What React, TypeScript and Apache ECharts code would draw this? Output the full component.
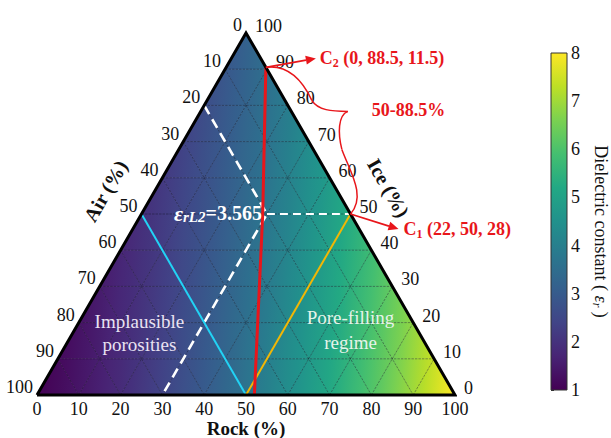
import React, { useEffect, useRef } from "react";
import * as echarts from "echarts";

// ---------- data ----------
const TICKS = [0, 10, 20, 30, 40, 50, 60, 70, 80, 90, 100];
const ICE_LEVELS = [0, 10, 20, 30, 40, 50, 60, 70, 80, 90, 100];
// dielectric constant read at grid vertices: one row per ice level,
// columns = rock 0,10,... up to 100-ice (air = the remainder)
const EPS_ICE_0 = [1.0, 1.4, 1.86, 2.4, 3.0, 3.66, 4.4, 5.2, 6.06, 7.0, 8.0];
const EPS_ICE_10 = [1.16, 1.59, 2.08, 2.64, 3.27, 3.97, 4.73, 5.56, 6.45, 7.41];
const EPS_ICE_20 = [1.33, 1.79, 2.31, 2.9, 3.56, 4.28, 5.07, 5.93, 6.85];
const EPS_ICE_30 = [1.52, 2.0, 2.55, 3.17, 3.86, 4.61, 5.43, 6.31];
const EPS_ICE_40 = [1.72, 2.23, 2.81, 3.45, 4.17, 4.95, 5.79];
const EPS_ICE_50 = [1.93, 2.47, 3.07, 3.75, 4.49, 5.3];
const EPS_ICE_60 = [2.15, 2.72, 3.35, 4.05, 4.82];
const EPS_ICE_70 = [2.38, 2.98, 3.64, 4.37];
const EPS_ICE_80 = [2.62, 3.25, 3.94];
const EPS_ICE_90 = [2.88, 3.54];
const EPS_ICE_100 = [3.15];
const EPS_ROWS = [
  EPS_ICE_0, EPS_ICE_10, EPS_ICE_20, EPS_ICE_30, EPS_ICE_40, EPS_ICE_50,
  EPS_ICE_60, EPS_ICE_70, EPS_ICE_80, EPS_ICE_90, EPS_ICE_100,
];
// compositions as [air, ice, rock] (%)
const C1 = [22, 50, 28];
const C2 = [0, 88.5, 11.5];
const C1_EDGE = [0, 50, 50];
const RANGE_TEXT = "50-88.5%";
const RED_LINE = [[0, 90.5, 9.5], [21, 50, 29], [48, 0, 52]];
const CYAN_LINE = [[50, 50, 0], [50, 0, 50]];
const YELLOW_LINE = [[50, 0, 50], [0, 50, 50]];
const WHITE_DASH = [[20, 80, 0], [20, 50, 30], [70, 0, 30]];
const WHITE_HDASH = [[20, 50, 30], [0, 50, 50]];
const EPS_L2 = 3.565;
const CB_MIN = 1;
const CB_MAX = 8;
const VIRIDIS = [
  "#440154", "#482475", "#414487", "#355f8d", "#2a788e", "#21918c",
  "#22a884", "#44bf70", "#7ad151", "#bddf26", "#fde725",
];

// ---------- helpers ----------
const FONT = "Liberation Serif";
const RED = "#e8161b";
const SQ = Math.sqrt(3) / 2;
const toXY = (a: number, i: number, r: number) => [r + i / 2, i * SQ];

function hex2rgb(h: string) {
  return [parseInt(h.slice(1, 3), 16), parseInt(h.slice(3, 5), 16), parseInt(h.slice(5, 7), 16)];
}
function viridis(v: number): string {
  let t = (v - CB_MIN) / (CB_MAX - CB_MIN);
  t = Math.max(0, Math.min(1, t));
  const n = VIRIDIS.length - 1;
  const f = t * n;
  const k = Math.min(n - 1, Math.floor(f));
  const u = f - k;
  const a = hex2rgb(VIRIDIS[k]);
  const b = hex2rgb(VIRIDIS[k + 1]);
  const c = a.map((x, j) => Math.round(x + (b[j] - x) * u));
  return `rgb(${c[0]},${c[1]},${c[2]})`;
}
function triFill(p: number[][], v: number[]) {
  const [x0, y0] = p[0];
  const ax = p[1][0] - x0, ay = p[1][1] - y0, bx = p[2][0] - x0, by = p[2][1] - y0;
  const d1 = v[1] - v[0], d2 = v[2] - v[0];
  const det = ax * by - ay * bx;
  const gx = (d1 * by - ay * d2) / det;
  const gy = (ax * d2 - bx * d1) / det;
  const g2 = gx * gx + gy * gy;
  const vmin = Math.min(...v), vmax = Math.max(...v);
  if (!isFinite(g2) || g2 < 1e-12 || vmax - vmin < 1e-6) return viridis(v[0]);
  const sx = x0 + ((vmin - v[0]) * gx) / g2, sy = y0 + ((vmin - v[0]) * gy) / g2;
  const ex = x0 + ((vmax - v[0]) * gx) / g2, ey = y0 + ((vmax - v[0]) * gy) / g2;
  const stops = [];
  for (let s = 0; s <= 4; s++) stops.push({ offset: s / 4, color: viridis(vmin + ((vmax - vmin) * s) / 4) });
  return new echarts.graphic.LinearGradient(sx, sy, ex, ey, stops, true);
}

// triangles of the 10% grid: [rowIndex, rockIndex, up]
const TRIS: number[][] = [];
for (let k = 0; k < ICE_LEVELS.length - 1; k++) {
  const n = EPS_ROWS[k].length - 1;
  for (let j = 0; j < n; j++) {
    TRIS.push([k, j, 1]);
    if (j < n - 1) TRIS.push([k, j, 0]);
  }
}
const GRID_LINES: number[][] = [];
TICKS.slice(1, -1).forEach((t) => [0, 1, 2].forEach((d) => GRID_LINES.push([t, d])));

const lineData = (pts: number[][]) => pts.map((p) => toXY(p[0], p[1], p[2]));

export default function App() {
  const ref = useRef<HTMLDivElement>(null);
  useEffect(() => {
    const chart = echarts.init(ref.current!, null, { renderer: "svg" });
    const vert = (k: number, j: number) => {
      const ice = ICE_LEVELS[k], rock = TICKS[j];
      return { xy: toXY(100 - ice - rock, ice, rock), v: EPS_ROWS[k][j] };
    };
    const option: any = {
      animation: false,
      backgroundColor: "#fff",
      grid: [
        { left: 37, top: 33, width: 418, height: 362, outerBoundsMode: "none", containLabel: false },
        { left: 551, top: 53, width: 16, height: 337, outerBoundsMode: "none", containLabel: false },
      ],
      xAxis: [
        {
          type: "value", gridIndex: 0, min: 0, max: 100, interval: 10,
          axisLine: { show: false }, axisTick: { show: false }, splitLine: { show: false },
          axisLabel: { fontSize: 18, fontFamily: FONT, color: "#111", margin: 5 },
        },
        { type: "value", gridIndex: 1, min: 0, max: 1, show: false },
      ],
      yAxis: [
        { type: "value", gridIndex: 0, min: 0, max: 100 * SQ, show: false },
        {
          type: "value", gridIndex: 1, min: CB_MIN, max: CB_MAX, interval: 1, position: "right",
          axisLine: { show: false }, splitLine: { show: false },
          axisTick: { show: true, length: 3, lineStyle: { color: "#333" } },
          axisLabel: { fontSize: 18, fontFamily: FONT, color: "#111", margin: 4 },
        },
      ],
      series: [
        {
          type: "custom", xAxisIndex: 0, yAxisIndex: 0, z: 1, silent: true,
          data: TRIS,
          renderItem: (params: any, api: any) => {
            const k = api.value(0), j = api.value(1), up = api.value(2);
            const vs = up ? [vert(k, j), vert(k, j + 1), vert(k + 1, j)] : [vert(k, j + 1), vert(k + 1, j), vert(k + 1, j + 1)];
            const pts = vs.map((q) => api.coord(q.xy));
            const fill = triFill(pts, vs.map((q) => q.v));
            return { type: "polygon", shape: { points: pts }, style: { fill, stroke: fill, lineWidth: 0.6 } };
          },
        },
        {
          type: "custom", xAxisIndex: 0, yAxisIndex: 0, z: 2, silent: true,
          data: GRID_LINES,
          renderItem: (params: any, api: any) => {
            const t = api.value(0), d = api.value(1);
            let a: number[], b: number[];
            if (d === 0) { a = toXY(100 - t, t, 0); b = toXY(0, t, 100 - t); }
            else if (d === 1) { a = toXY(100 - t, 0, t); b = toXY(0, 100 - t, t); }
            else { a = toXY(t, 100 - t, 0); b = toXY(t, 0, 100 - t); }
            const p = api.coord(a), q = api.coord(b);
            return {
              type: "line", shape: { x1: p[0], y1: p[1], x2: q[0], y2: q[1] },
              style: { stroke: "rgba(15,15,30,0.5)", lineWidth: 0.8, lineDash: [2.5, 1] },
            };
          },
        },
        {
          type: "line", xAxisIndex: 0, yAxisIndex: 0, z: 3, symbol: "none", clip: false, silent: true,
          data: lineData(WHITE_DASH), lineStyle: { color: "#fff", width: 2.6, type: [10, 6] },
        },
        {
          type: "line", xAxisIndex: 0, yAxisIndex: 0, z: 3, symbol: "none", clip: false, silent: true,
          data: lineData(WHITE_HDASH), lineStyle: { color: "#fff", width: 2.2, type: [8, 5] },
        },
        {
          type: "line", xAxisIndex: 0, yAxisIndex: 0, z: 4, symbol: "none", clip: false, silent: true,
          data: lineData(CYAN_LINE), lineStyle: { color: "#22d3f5", width: 2 },
        },
        {
          type: "line", xAxisIndex: 0, yAxisIndex: 0, z: 4, symbol: "none", clip: false, silent: true,
          data: lineData(YELLOW_LINE), lineStyle: { color: "#f2b705", width: 2 },
        },
        {
          type: "line", xAxisIndex: 0, yAxisIndex: 0, z: 5, symbol: "none", clip: false, silent: true,
          data: lineData(RED_LINE), lineStyle: { color: RED, width: 3 },
        },
        {
          type: "line", xAxisIndex: 0, yAxisIndex: 0, z: 6, symbol: "none", clip: false, silent: true,
          data: lineData([[100, 0, 0], [0, 0, 100], [0, 100, 0], [100, 0, 0]]),
          lineStyle: { color: "#000", width: 3, join: "miter" },
        },
        {
          type: "custom", xAxisIndex: 1, yAxisIndex: 1, z: 2, silent: true,
          data: [[0, CB_MIN]],
          renderItem: (params: any, api: any) => {
            const p0 = api.coord([0, CB_MIN]);
            const p1 = api.coord([1, CB_MAX]);
            const stops = VIRIDIS.map((c, i) => ({ offset: i / (VIRIDIS.length - 1), color: c }));
            return {
              type: "rect",
              shape: { x: p0[0], y: p1[1], width: p1[0] - p0[0], height: p0[1] - p1[1] },
              style: { fill: new echarts.graphic.LinearGradient(0, 1, 0, 0, stops), stroke: "#333", lineWidth: 1 },
            };
          },
        },
      ],
    };
    chart.setOption(option);

    const P = (c: number[]) =>
      chart.convertToPixel({ xAxisIndex: 0, yAxisIndex: 0 }, toXY(c[0], c[1], c[2])) as number[];
    const txt = (x: number, y: number, text: string, extra: any = {}, rotation = 0) => ({
      type: "text", x, y, rotation, z: 100,
      style: {
        text, fontSize: 18, fontFamily: FONT, fill: "#111", align: "center", verticalAlign: "middle", ...extra,
      },
    });
    const arrow = (x1: number, y1: number, x2: number, y2: number) => {
      const dx = x2 - x1, dy = y2 - y1, L = Math.hypot(dx, dy), ux = dx / L, uy = dy / L;
      const hl = 10, hw = 4.5, bx = x2 - ux * hl, by = y2 - uy * hl;
      return [
        { type: "line", z: 100, shape: { x1, y1, x2: bx, y2: by }, style: { stroke: RED, lineWidth: 1.8 } },
        {
          type: "polygon", z: 100,
          shape: { points: [[x2, y2], [bx - uy * hw, by + ux * hw], [bx + uy * hw, by - ux * hw]] },
          style: { fill: RED },
        },
      ];
    };
    const g: any[] = [];
    TICKS.forEach((t) => {
      const l = P([t, 100 - t, 0]);
      g.push(txt(l[0] - 4, l[1] - 8, String(t), { align: "right" }));
      const r = P([0, t, 100 - t]);
      g.push(txt(r[0] + 9, r[1] - 7, String(t), { align: "left" }));
    });
    const airMid = P([50, 50, 0]);
    const iceMid = P([0, 50, 50]);
    const rockMid = P([50, 0, 50]);
    const bold = { fontSize: 20, fontWeight: "bold" };
    g.push(txt(airMid[0] - 36, airMid[1] - 23, "Air (%)", bold, Math.PI / 3));
    g.push(txt(iceMid[0] + 38, iceMid[1] - 26, "Ice (%)", bold, -Math.PI / 3));
    g.push(txt(rockMid[0], rockMid[1] + 33, "Rock (%)", { fontSize: 19, fontWeight: "bold", lineHeight: 19 }));

    // annotations
    const top = P(RED_LINE[0]);
    const e1 = P(C1_EDGE);
    g.push(...arrow(top[0], top[1], top[0] + 50, top[1] - 9));
    g.push(...arrow(e1[0], e1[1], e1[0] + 48, e1[1] + 15));
    const redRich = {
      c: { fontSize: 18, fontWeight: "bold", fontFamily: FONT, fill: RED, lineHeight: 22 },
      s: { fontSize: 12, fontWeight: "bold", fontFamily: FONT, fill: RED, verticalAlign: "bottom", lineHeight: 16 },
    };
    g.push(txt(top[0] + 54, top[1] - 9, `{c|C}{s|2}{c| (${C2.join(", ")})}`, { align: "left", rich: redRich }));
    g.push(txt(e1[0] + 53, e1[1] + 15, `{c|C}{s|1}{c| (${C1.join(", ")})}`, { align: "left", rich: redRich }));
    g.push(txt(top[0] + 106, top[1] + 43, RANGE_TEXT, { align: "left", fontWeight: "bold", fill: RED }));
    // brace
    const sx = top[0], sy = top[1];
    const tipX = sx + 82, tipY = sy + 44;
    const ex = e1[0], ey = e1[1];
    const brace = [
      [sx, sy, sx + 24, sy - 3, sx + 38, sy + 16, sx + 46, sy + 33],
      [sx + 46, sy + 33, sx + 52, sy + 43, sx + 66, sy + 44, tipX, tipY],
      [tipX, tipY, tipX - 10, tipY + 4, tipX - 10, tipY + 22, tipX - 6, tipY + 38],
      [tipX - 6, tipY + 38, tipX + 2, tipY + 60, ex + 16, ey - 18, ex, ey],
    ];
    brace.forEach((b) =>
      g.push({
        type: "bezierCurve", z: 100,
        shape: { x1: b[0], y1: b[1], cpx1: b[2], cpy1: b[3], cpx2: b[4], cpy2: b[5], x2: b[6], y2: b[7] },
        style: { stroke: RED, lineWidth: 1.5, fill: null },
      })
    );
    // eps_rL2 label
    const chev = P(WHITE_DASH[1]);
    g.push(txt(chev[0] - 5, chev[1] - 1, `{e|ε}{s|rL2}{n|=${EPS_L2}}`, {
      align: "right",
      rich: {
        e: { fontSize: 22, fontWeight: "bold", fontStyle: "italic", fontFamily: FONT, fill: "#fff", lineHeight: 22 },
        s: { fontSize: 15, fontWeight: "bold", fontStyle: "italic", fontFamily: FONT, fill: "#fff", verticalAlign: "bottom", lineHeight: 16 },
        n: { fontSize: 20, fontWeight: "bold", fontFamily: FONT, fill: "#fff", lineHeight: 22 },
      },
    }));
    // region labels
    const imp = P([67, 17, 16]);
    g.push(txt(imp[0], imp[1], "Implausible\nporosities", { fill: "#e9e2f2", fontSize: 19, lineHeight: 23 }));
    const pore = P([16, 18, 66]);
    g.push(txt(pore[0], pore[1], "Pore-filling\nregime", { fill: "#e6f4ea", fontSize: 19, lineHeight: 25 }));
    // colorbar title
    const cbMid = chart.convertToPixel({ xAxisIndex: 1, yAxisIndex: 1 }, [1, (CB_MIN + CB_MAX) / 2]) as number[];
    g.push(txt(cbMid[0] + 34, cbMid[1] + 10, "{a|Dielectric constant ( }{e|ε}{s|r}{a| )}", {
      fontSize: 18,
      rich: {
        a: { fontSize: 18, fontFamily: FONT, fill: "#111", lineHeight: 20 },
        e: { fontSize: 18, fontStyle: "italic", fontFamily: FONT, fill: "#111", lineHeight: 20 },
        s: { fontSize: 12, fontStyle: "italic", fontFamily: FONT, fill: "#111", verticalAlign: "bottom", lineHeight: 14 },
      },
    }, -Math.PI / 2));
    chart.setOption({ graphic: { elements: g } });
    return () => chart.dispose();
  }, []);
  return <div ref={ref} style={{ position: "absolute", left: 0, top: 0, width: 611, height: 438 }} />;
}
